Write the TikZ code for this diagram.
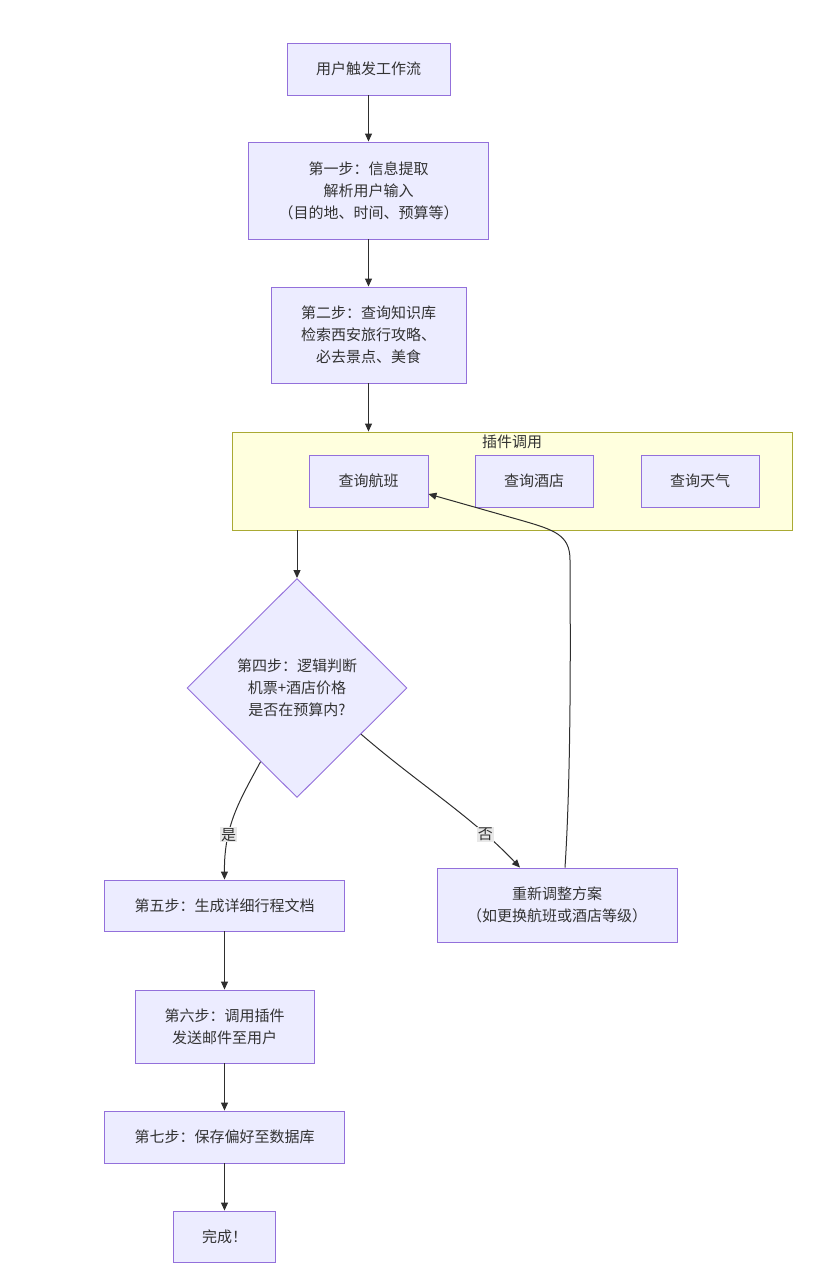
\documentclass[tikz,border=0pt]{standalone}
\usepackage{fontspec}
\setmainfont{Noto Sans CJK SC}
\usetikzlibrary{shapes.geometric,arrows.meta,calc}
\definecolor{nfill}{HTML}{ECECFF}
\definecolor{nline}{HTML}{9370DB}
\definecolor{cfill}{HTML}{FFFFDE}
\definecolor{cline}{HTML}{AAAA33}
\definecolor{txt}{HTML}{333333}
\definecolor{lbl}{HTML}{E8E8E8}
\begin{document}
\begin{tikzpicture}[x=1pt,y=-1pt,
  font=\fontsize{15pt}{22pt}\selectfont,
  box/.style={draw=nline,fill=nfill,line width=0.9pt,text=txt,align=center,inner sep=0pt},
  dia/.style={draw=nline,fill=nfill,line width=0.9pt,text=txt,align=center,diamond,minimum width=220pt,minimum height=219pt,inner sep=0pt},
  edge/.style={draw=txt!90!black,line width=1pt,-{Triangle[length=8pt,width=7pt]}},
  elabel/.style={fill=lbl,text=txt,inner sep=1pt}]
\useasboundingbox (0,0) rectangle (812,1269);
% cluster
\node[draw=cline,fill=cfill,line width=0.9pt,minimum width=560pt,minimum height=98pt,inner sep=0pt] (cl) at (512,481) {};
\node[text=txt] (clt) at (512,442) {插件调用};
% nodes
\node[box,minimum width=163pt,minimum height=52pt] (n0) at (368.5,69) {用户触发工作流};
\node[box,minimum width=240pt,minimum height=97pt] (n1) at (368.5,190.5) {第一步：信息提取\\解析用户输入\\（目的地、时间、预算等）};
\node[box,minimum width=195pt,minimum height=96pt] (n2) at (368.5,335) {第二步：查询知识库\\检索西安旅行攻略、\\必去景点、美食};
\node[box,minimum width=119pt,minimum height=52pt] (f1) at (368.5,481) {查询航班};
\node[box,minimum width=118pt,minimum height=52pt] (f2) at (534,481) {查询酒店};
\node[box,minimum width=118pt,minimum height=52pt] (f3) at (700,481) {查询天气};
\node[dia] (d) at (297,688) {第四步：逻辑判断\\机票+酒店价格\\是否在预算内?};
\node[box,minimum width=240pt,minimum height=51pt] (s5) at (224.5,905.5) {第五步：生成详细行程文档};
\node[box,minimum width=240pt,minimum height=74pt] (adj) at (557,905) {重新调整方案\\（如更换航班或酒店等级）};
\node[box,minimum width=179pt,minimum height=73pt] (s6) at (224.5,1026.5) {第六步：调用插件\\发送邮件至用户};
\node[box,minimum width=240pt,minimum height=52pt] (s7) at (224.5,1137) {第七步：保存偏好至数据库};
\node[box,minimum width=102pt,minimum height=51pt] (s8) at (224.5,1236.5) {完成！};
% edges
\draw[edge] (n0) -- (n1);
\draw[edge] (n1) -- (n2);
\draw[edge] (n2.south) -- (n2.south |- cl.north);
\draw[edge] (d.north |- cl.south) -- (d.north);
\coordinate (dl) at ($(d.west)!0.67!(d.south)$);
\coordinate (dr) at ($(d.east)!0.42!(d.south)$);
\draw[edge] (dl) .. controls (240,800) and (224,825) .. node[pos=0.68,elabel] {是} (s5.north);
\draw[edge] (dr) .. controls (420,785) and (470,815) .. node[pos=0.77,elabel] {否} ([xshift=-37pt]adj.north);
\draw[edge] ([xshift=8pt]adj.north) .. controls (572,760) and (570,600) .. (570,560)
  .. controls (570,535) and (555,530) .. (520,520) -- ([yshift=-13pt]f1.east);
\draw[edge] (s5) -- (s6);
\draw[edge] (s6) -- (s7);
\draw[edge] (s7) -- (s8);
\end{tikzpicture}
\end{document}
